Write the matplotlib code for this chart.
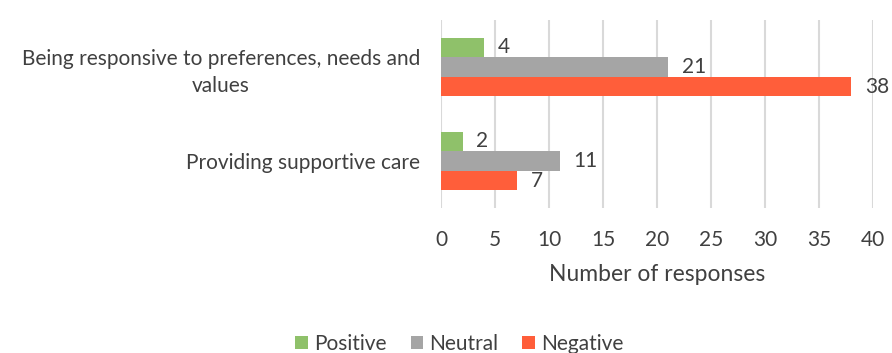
import matplotlib.pyplot as plt
import numpy as np

plt.rcParams['font.family'] = ['Lato', 'DejaVu Sans']

categories = ["Providing supportive care",
              "Being responsive to preferences, needs and\nvalues"]
series = ["Positive", "Neutral", "Negative"]
positive = [2, 4]
neutral = [11, 21]
negative = [7, 38]
colors = ["#8FC16A", "#A5A5A5", "#FF5E3A"]
text_col = "#404040"

fig = plt.figure(figsize=(8.92, 3.53), dpi=100)
ax = fig.add_axes([0.4944, 0.4108, 0.4843, 0.5325])

y = np.arange(len(categories))
h = 0.208
offsets = [h, 0, -h]
for vals, off, col, name in zip([positive, neutral, negative], offsets, colors, series):
    bars = ax.barh(y + off, vals, height=h, color=col, label=name, zorder=3)
    ax.bar_label(bars, padding=10, fontsize=15, color=text_col)

ax.set_xlim(0, 40)
ax.set_ylim(-0.5, 1.5)
ax.set_xticks(np.arange(0, 41, 5))
ax.set_yticks(y)
ax.set_yticklabels(categories, multialignment='center', linespacing=1.45)
ax.tick_params(axis='both', length=0, labelsize=15, colors=text_col)
ax.tick_params(axis='y', pad=15)
ax.tick_params(axis='x', pad=16)
ax.grid(axis='x', color='#D9D9D9', linewidth=1.5, zorder=0)
for s in ax.spines.values():
    s.set_visible(False)
ax.set_xlabel("Number of responses", fontsize=16.5, color=text_col, labelpad=10)

fig.legend(loc='lower center', bbox_to_anchor=(0.515, -0.055), ncol=3, frameon=False,
           fontsize=15, handlelength=0.6, handleheight=0.6, handletextpad=0.3,
           columnspacing=1.15, labelcolor=text_col)

fig.savefig("out.png", dpi=100)
